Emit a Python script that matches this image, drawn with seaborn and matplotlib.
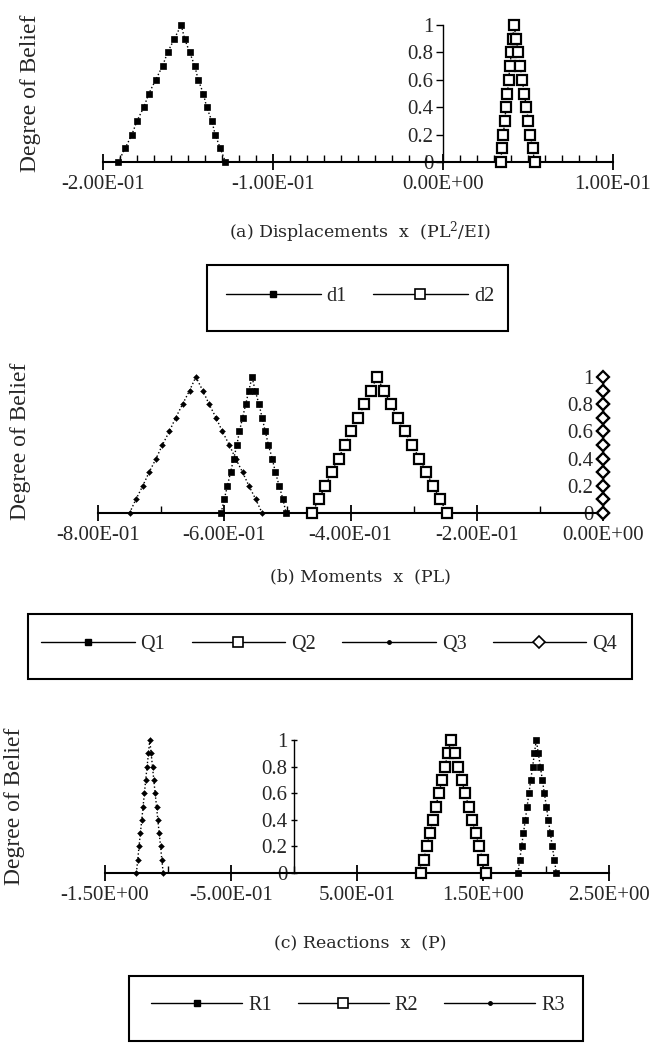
import matplotlib
matplotlib.use("Agg")
import matplotlib.pyplot as plt
import seaborn as sns
from matplotlib.lines import Line2D
from matplotlib.patches import Rectangle
from matplotlib.ticker import FixedLocator, MultipleLocator

# ---------------- data (alpha-cut points) ----------------
ALPHA = [0.0, 0.1, 0.2, 0.3, 0.4, 0.5, 0.6, 0.7, 0.8, 0.9, 1.0,
         0.9, 0.8, 0.7, 0.6, 0.5, 0.4, 0.3, 0.2, 0.1, 0.0]

D1 = [-0.191, -0.187, -0.183, -0.180, -0.176, -0.173, -0.169, -0.165, -0.162, -0.158, -0.154,
      -0.152, -0.149, -0.146, -0.144, -0.141, -0.139, -0.136, -0.134, -0.131, -0.128]
D2 = [0.0339, 0.0347, 0.0355, 0.0363, 0.0371, 0.0379, 0.0386, 0.0394, 0.0402, 0.0410, 0.0418,
      0.0430, 0.0442, 0.0454, 0.0466, 0.0478, 0.0490, 0.0502, 0.0514, 0.0527, 0.0539]

Q1 = [-0.605, -0.600, -0.595, -0.590, -0.585, -0.580, -0.576, -0.571, -0.566, -0.561, -0.556,
      -0.551, -0.545, -0.540, -0.535, -0.530, -0.524, -0.519, -0.513, -0.507, -0.502]
Q2 = [-0.461, -0.450, -0.440, -0.430, -0.419, -0.409, -0.399, -0.388, -0.378, -0.368, -0.358,
      -0.347, -0.336, -0.325, -0.314, -0.302, -0.291, -0.280, -0.269, -0.258, -0.247]
Q3 = [-0.750, -0.740, -0.729, -0.719, -0.708, -0.698, -0.687, -0.677, -0.666, -0.655, -0.645,
      -0.634, -0.624, -0.613, -0.603, -0.592, -0.582, -0.571, -0.561, -0.550, -0.540]
Q4 = [0.0, 0.0, 0.0, 0.0, 0.0, 0.0, 0.0, 0.0, 0.0, 0.0, 0.0,
      0.0, 0.0, 0.0, 0.0, 0.0, 0.0, 0.0, 0.0, 0.0, 0.0]

R1 = [1.777, 1.792, 1.806, 1.821, 1.836, 1.850, 1.865, 1.879, 1.894, 1.908, 1.923,
      1.939, 1.955, 1.971, 1.987, 2.003, 2.018, 2.034, 2.050, 2.066, 2.082]
R2 = [1.006, 1.030, 1.054, 1.078, 1.102, 1.126, 1.150, 1.174, 1.198, 1.222, 1.246,
      1.274, 1.302, 1.330, 1.358, 1.386, 1.413, 1.441, 1.469, 1.497, 1.525]
R3 = [-1.251, -1.240, -1.230, -1.219, -1.208, -1.198, -1.187, -1.177, -1.166, -1.155, -1.145,
      -1.134, -1.123, -1.113, -1.102, -1.091, -1.081, -1.070, -1.059, -1.049, -1.038]

XTICKS_A = [-0.2, -0.1, 0.0, 0.1]
XLABELS_A = ["-2.00E-01", "-1.00E-01", "0.00E+00", "1.00E-01"]
XTICKS_B = [-0.8, -0.6, -0.4, -0.2, 0.0]
XLABELS_B = ["-8.00E-01", "-6.00E-01", "-4.00E-01", "-2.00E-01", "0.00E+00"]
XTICKS_C = [-1.5, -0.5, 0.5, 1.5, 2.5]
XLABELS_C = ["-1.50E+00", "-5.00E-01", "5.00E-01", "1.50E+00", "2.50E+00"]
YTICKS = [0.0, 0.2, 0.4, 0.6, 0.8, 1.0]
YLABELS = ["0", "0.2", "0.4", "0.6", "0.8", "1"]

# ---------------- styling ----------------
sns.set_theme(style="white")
plt.rcParams["font.family"] = ["Liberation Serif", "DejaVu Serif"]
plt.rcParams["mathtext.fontset"] = "custom"
plt.rcParams["mathtext.rm"] = "DejaVu Serif"
plt.rcParams["mathtext.it"] = "DejaVu Serif:italic"
CAPTION_FONT = ["DejaVu Serif"]

STY = {
    "filled_sq": dict(marker="s", markersize=5, markerfacecolor="black",
                      markeredgecolor="black", markeredgewidth=0.5),
    "open_sq": dict(marker="s", markersize=7, markerfacecolor="white",
                    markeredgecolor="black", markeredgewidth=1.6),
    "dot": dict(marker="D", markersize=3, markerfacecolor="black",
                markeredgecolor="black", markeredgewidth=0.3),
    "open_di": dict(marker="D", markersize=6, markerfacecolor="white",
                    markeredgecolor="black", markeredgewidth=1.6),
}
LEG_STY = {
    "filled_sq": dict(marker="s", markersize=5, markerfacecolor="black",
                      markeredgecolor="black"),
    "open_sq": dict(marker="s", markersize=7, markerfacecolor="white",
                    markeredgecolor="black", markeredgewidth=1.2),
    "dot": dict(marker="o", markersize=2.5, markerfacecolor="black",
                markeredgecolor="black"),
    "open_di": dict(marker="D", markersize=6, markerfacecolor="white",
                    markeredgecolor="black", markeredgewidth=1.2),
}

W, H = 653, 1043
fig = plt.figure(figsize=(W / 100, H / 100), dpi=100)
fig.patch.set_facecolor("white")


def px_axes(x0, x1, ytop, ybot):
    return fig.add_axes([x0 / W, 1 - ybot / H, (x1 - x0) / W, (ybot - ytop) / H])


def setup(ax, xlim, xticks, xlabels, minor, ydir):
    ax.set_facecolor("none")
    ax.set_xlim(*xlim)
    ax.set_ylim(0, 1)
    for s in ["top", "right"]:
        ax.spines[s].set_visible(False)
    ax.spines["left"].set_position(("data", 0))
    ax.spines["left"].set_color("black")
    ax.spines["left"].set_linewidth(1.0)
    ax.spines["bottom"].set_color("black")
    ax.spines["bottom"].set_linewidth(1.5)
    ax.xaxis.set_major_locator(FixedLocator(xticks))
    ax.set_xticklabels(xlabels)
    ax.xaxis.set_minor_locator(MultipleLocator(minor))
    ax.tick_params(axis="x", which="major", direction="inout", length=11,
                   width=1.3, color="black", pad=4, labelsize=15, bottom=True)
    ax.tick_params(axis="x", which="minor", direction="in", length=5,
                   width=1.0, color="black", bottom=True)
    ax.set_yticks(YTICKS)
    ax.set_yticklabels(YLABELS)
    ax.tick_params(axis="y", direction=ydir, length=5, width=1.0,
                   color="black", pad=2, labelsize=15, left=True)
    ax.set_xlabel("")
    ax.set_ylabel("")


def draw(ax, xs, key):
    sns.lineplot(x=xs, y=ALPHA, ax=ax, sort=False, estimator=None,
                 color="black", linestyle=":", linewidth=1.0,
                 clip_on=False, zorder=3, **STY[key])


def legend_box(x0, x1, y0, y1, names, keys, cx, cy, hl):
    fig.patches.append(Rectangle((x0 / W, 1 - y1 / H), (x1 - x0) / W, (y1 - y0) / H,
                                 transform=fig.transFigure, fill=False,
                                 edgecolor="black", linewidth=1.5))
    handles = [Line2D([0], [0], color="black", linewidth=1.0, **LEG_STY[k]) for k in keys]
    fig.legend(handles, names, loc="center", bbox_to_anchor=(cx / W, 1 - cy / H),
               ncol=len(names), frameon=False, fontsize=14.5, handlelength=hl,
               handletextpad=0.3, columnspacing=1.3, numpoints=1)


def caption(y, s):
    fig.text(360 / W, 1 - y / H, s, ha="center", va="center", fontsize=12.5,
             family=CAPTION_FONT)


def ylabel(x, y):
    fig.text(x / W, 1 - y / H, "Degree of Belief", rotation=90, ha="center",
             va="center", fontsize=17)


# ---------------- (a) displacements ----------------
axA = px_axes(103, 613, 25, 162)
setup(axA, (-0.2, 0.1), XTICKS_A, XLABELS_A, 0.01, "out")
draw(axA, D1, "filled_sq")
draw(axA, D2, "open_sq")
ylabel(31, 93)
caption(232, "(a) Displacements  x  (PL$^{2}$/EI)")
legend_box(207, 508, 265, 331, ["d1", "d2"], ["filled_sq", "open_sq"], 360, 296, 4.7)

# ---------------- (b) moments ----------------
axB = px_axes(98, 603, 377, 513)
setup(axB, (-0.8, 0.0), XTICKS_B, XLABELS_B, 0.1, "out")
draw(axB, Q1, "filled_sq")
draw(axB, Q2, "open_sq")
draw(axB, Q3, "dot")
draw(axB, Q4, "open_di")
ylabel(21, 441)
caption(577, "(b) Moments  x  (PL)")
legend_box(28, 632, 614, 679, ["Q1", "Q2", "Q3", "Q4"],
           ["filled_sq", "open_sq", "dot", "open_di"], 329, 644, 4.65)

# ---------------- (c) reactions ----------------
axC = px_axes(105, 609, 740, 873)
setup(axC, (-1.5, 2.5), XTICKS_C, XLABELS_C, 0.5, "inout")
draw(axC, R1, "filled_sq")
draw(axC, R2, "open_sq")
draw(axC, R3, "dot")
ylabel(15, 806)
caption(944, "(c) Reactions  x  (P)")
legend_box(129, 583, 976, 1041, ["R1", "R2", "R3"],
           ["filled_sq", "open_sq", "dot"], 358, 1005, 4.5)

fig.savefig("out.png", dpi=100, facecolor="white")
